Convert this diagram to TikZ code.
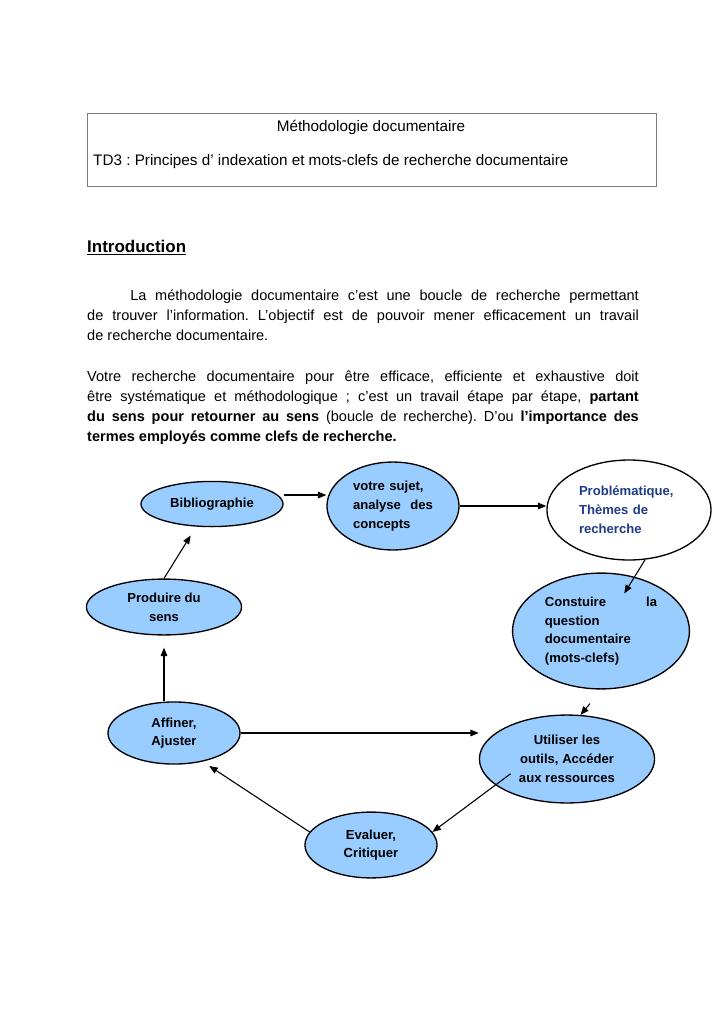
\documentclass[tikz,border=0pt]{standalone}
\usepackage{fontspec}
\setmainfont{Liberation Sans}
\usetikzlibrary{arrows.meta, shapes.geometric, calc}
\definecolor{tdblue}{HTML}{99CCFF}
\definecolor{tdnavy}{HTML}{1F3C88}
\definecolor{tdframe}{HTML}{7A7A7A}
\frenchspacing

\begin{document}
\begin{tikzpicture}[x=0.029cm, y=-0.029cm,
    stage/.style={ellipse, draw=black, fill=#1, line width=1.1pt, inner sep=0pt,
                  font=\fontsize{10.8}{15.5}\selectfont\bfseries, align=center},
    stage/.default=tdblue,
    link/.style={-{Triangle[length=7pt, width=5.5pt]}, line width=0.9pt, black},
    para/.style={anchor=north west, inner sep=0pt, text width=16cm, align=justify,
                 font=\fontsize{12}{16.5}\selectfont}
  ]
    \useasboundingbox (0,0) rectangle (725,1024);

    % en-tete du TD
    \draw[tdframe, line width=0.6pt] (87,113) rectangle (656,186);
    \node[font=\fontsize{12.6}{14}\selectfont] (titre) at (371,127) {Méthodologie documentaire};
    \node[anchor=west, inner sep=0pt, font=\fontsize{12.6}{14}\selectfont] (td) at (93,162)
      {TD3 : Principes d’ indexation et mots-clefs de recherche documentaire};

    % texte d'introduction
    \node[anchor=west, inner sep=0pt, font=\fontsize{14}{16}\selectfont\bfseries] (intro) at (87,248)
      {\underline{Introduction}};
    \node[para] (p1) at (87,290)
      {\hspace*{1.25cm}La méthodologie documentaire c’est une boucle de recherche permettant\linebreak
       de trouver l’information. L’objectif est de pouvoir mener efficacement un travail\linebreak
       de recherche documentaire.};
    \node[para] (p2) at (87,371)
      {Votre recherche documentaire pour être efficace, efficiente et exhaustive doit\linebreak
       être systématique et méthodologique ; c’est un travail étape par étape, \textbf{partant}\linebreak
       \textbf{du sens pour retourner au sens} (boucle de recherche). D’ou \textbf{l’importance des}\linebreak
       \textbf{termes employés comme clefs de recherche.}};

    % boucle de recherche
    \node[stage, minimum width=4.12cm, minimum height=1.31cm] (biblio) at (212,504) {Bibliographie};
    \node[stage, minimum width=3.83cm, minimum height=2.55cm, text width=2.32cm, align=left] (sujet) at (393,506)
      {votre sujet,\\ analyse \hfill des\\ concepts};
    \node[stage=white, minimum width=4.76cm, minimum height=2.9cm, text width=2.9cm, align=left,
          text=tdnavy] (probl) at (629,510)
      {Problématique,\\ Thèmes de\\ recherche};
    \node[stage, minimum width=5.13cm, minimum height=3.36cm, text width=3.25cm, align=left] (constr) at (601,631)
      {Constuire \hfill la\\ question\\ documentaire\\ (mots-clefs)};
    \node[stage, minimum width=5.08cm, minimum height=2.55cm] (outils) at (567,759)
      {Utiliser les\\ outils, Accéder\\ aux ressources};
    \node[stage, minimum width=3.83cm, minimum height=1.91cm] (evaluer) at (371,845)
      {Evaluer,\\ Critiquer};
    \node[stage, minimum width=3.83cm, minimum height=1.8cm] (affiner) at (174,733)
      {Affiner,\\ Ajuster};
    \node[stage, minimum width=4.5cm, minimum height=1.62cm] (sens) at (164,607)
      {Produire du\\ sens};

    \draw[link] ([yshift=7.4pt]biblio.east) -- ([yshift=7.4pt]biblio.east -| sujet.west);
    \draw[link] (sujet.east) -- (sujet.east -| probl.west);
    \draw[link, shorten >=1.28cm] (probl.-72) -- (constr.center);
    \draw[link] ($(constr.south)+(-11,14)$) -- (outils.73);
    \draw[link] (affiner.east) -- (affiner.east -| outils.west);
    \draw[link, shorten <=-0.55cm] (outils.200) -- (evaluer.12);
    \draw[link, shorten >=0.23cm] (evaluer.168) -- (affiner.-45);
    \draw[link, shorten >=0.35cm] (sens |- affiner.north) -- (sens.south);
    \draw[link, shorten >=0.3cm] (sens.north) -- (biblio.-125);
  \end{tikzpicture}
\end{document}
